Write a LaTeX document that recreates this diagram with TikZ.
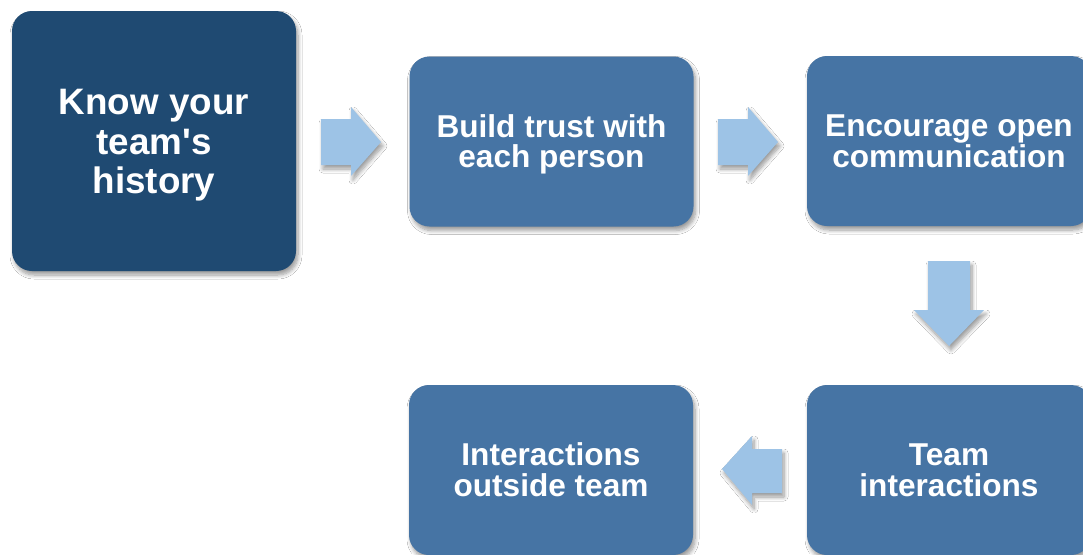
\documentclass[tikz,border=0pt]{standalone}
\usepackage{fontspec}
\setmainfont{Liberation Sans}[Ligatures=TeXOff]
\usetikzlibrary{shadows.blur}
\definecolor{darkbox}{HTML}{1F4A72}
\definecolor{midbox}{HTML}{4674A4}
\definecolor{arrowblue}{HTML}{9DC3E6}
\newcommand{\smalltop}{\rule{0pt}{30.9pt}}
\newcommand{\smallbot}{\rule[-9.15pt]{0pt}{0pt}}
\newcommand{\bigtop}{\rule{0pt}{38.3pt}}
\newcommand{\bigbot}{\rule[-11.8pt]{0pt}{0pt}}
\tikzset{
  softshadow/.style={blur shadow={shadow xshift=2pt, shadow yshift=-4pt, shadow blur radius=4pt, shadow blur steps=8, shadow opacity=40}},
  stagebox/.style={rectangle, rounded corners=20pt, fill=midbox, text=white, align=center,
    font=\bfseries\fontsize{31.6}{30.5}\selectfont, minimum width=284pt, minimum height=170pt,
    inner sep=0pt, softshadow},
  firstbox/.style={rectangle, rounded corners=20pt, fill=darkbox, text=white, align=center,
    font=\bfseries\fontsize{36.8}{39.3}\selectfont, minimum width=284pt, minimum height=260pt,
    inner sep=0pt, softshadow},
  blockarrow/.style={fill=arrowblue, draw=none, softshadow}
}
\begin{document}
\begin{tikzpicture}[x=1pt,y=-1pt]
\useasboundingbox (0,0) rectangle (1083,554);
\clip (0,0) rectangle (1083,554);
\fill[white] (0,0) rectangle (1083,554);
\node[firstbox] (b1) at (154,141) {\bigtop Know your\\team's\\history\bigbot};
\node[stagebox] (b2) at (551.5,141.5) {\smalltop Build trust with\\each person\smallbot};
\node[stagebox] (b3) at (949,141) {\smalltop Encourage open\\communication\smallbot};
\node[stagebox] (b4) at (949,470) {\smalltop Team\\interactions\smallbot};
\node[stagebox] (b5) at (551,470) {\smalltop Interactions\\outside team\smallbot};
% block arrows
\path[blockarrow] (321,119) -- (351,119) -- (351,107) -- (381,142) -- (351,176) -- (351,165) -- (321,165) -- cycle;
\path[blockarrow] (718,119) -- (748,119) -- (748,107) -- (778,142) -- (748,176) -- (748,165) -- (718,165) -- cycle;
\path[blockarrow] (928,261) -- (970,261) -- (970,310) -- (984,310) -- (949,346) -- (914,310) -- (928,310) -- cycle;
\path[blockarrow] (782,449) -- (752,449) -- (752,436) -- (722,469) -- (752,505) -- (752,493) -- (782,493) -- cycle;
\end{tikzpicture}
\end{document}
